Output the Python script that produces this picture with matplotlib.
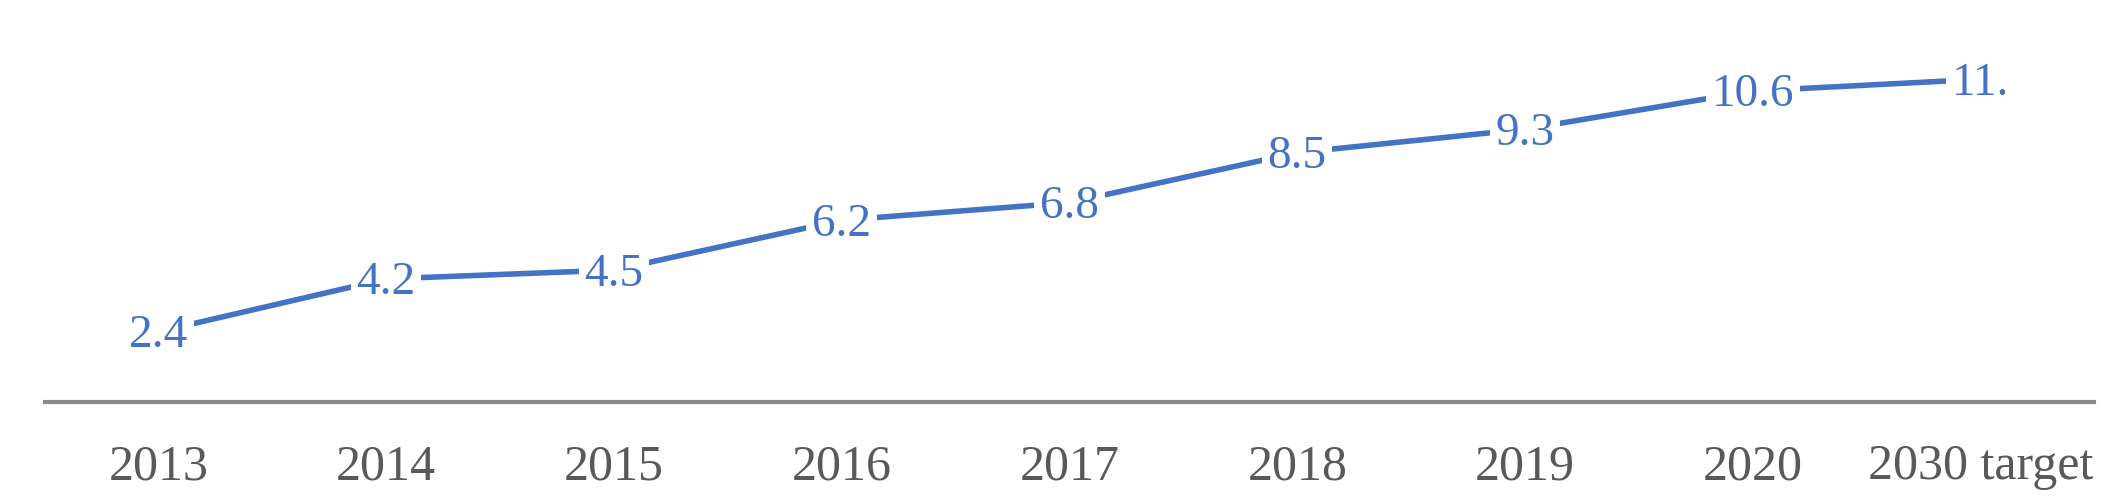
import matplotlib
matplotlib.use("Agg")
import matplotlib.pyplot as plt

# data
years = ["2013", "2014", "2015", "2016", "2017", "2018", "2019", "2020", "2030 target"]
values = [2.4, 4.2, 4.5, 6.2, 6.8, 8.5, 9.3, 10.6, 11.0]
point_labels = ["2.4", "4.2", "4.5", "6.2", "6.8", "8.5", "9.3", "10.6", "11."]

BLUE = "#4472C4"
AXIS = "#898989"
TICK = "#595959"
SERIF = ["Liberation Serif", "DejaVu Serif"]

fig = plt.figure(figsize=(21.22, 4.99), dpi=100)
ax = fig.add_axes([0.021, 0.194, 0.966, 0.806])

xs = list(range(len(years)))
ax.plot(xs, values, color=BLUE, lw=4.0, solid_capstyle="butt", zorder=2)

for x, v, s in zip(xs, values, point_labels):
    ax.annotate(s, (x, v), xytext=(0, -3), textcoords="offset points",
                ha="center", va="center", fontsize=34, color=BLUE,
                family=SERIF, zorder=3,
                bbox=dict(boxstyle="square,pad=0.12", fc="white", ec="none"))

ax.set_xlim(-0.5, len(years) - 0.5)
ax.set_ylim(0, 13.7)
ax.set_xticks(xs)
ax.set_xticklabels(years, family=SERIF, fontsize=36, color=TICK)
ax.tick_params(axis="x", length=0, pad=30)
ax.set_yticks([])

for s in ["top", "right", "left"]:
    ax.spines[s].set_visible(False)
ax.spines["bottom"].set_color(AXIS)
ax.spines["bottom"].set_linewidth(3.0)

fig.savefig("out.png", dpi=100, facecolor="white")
